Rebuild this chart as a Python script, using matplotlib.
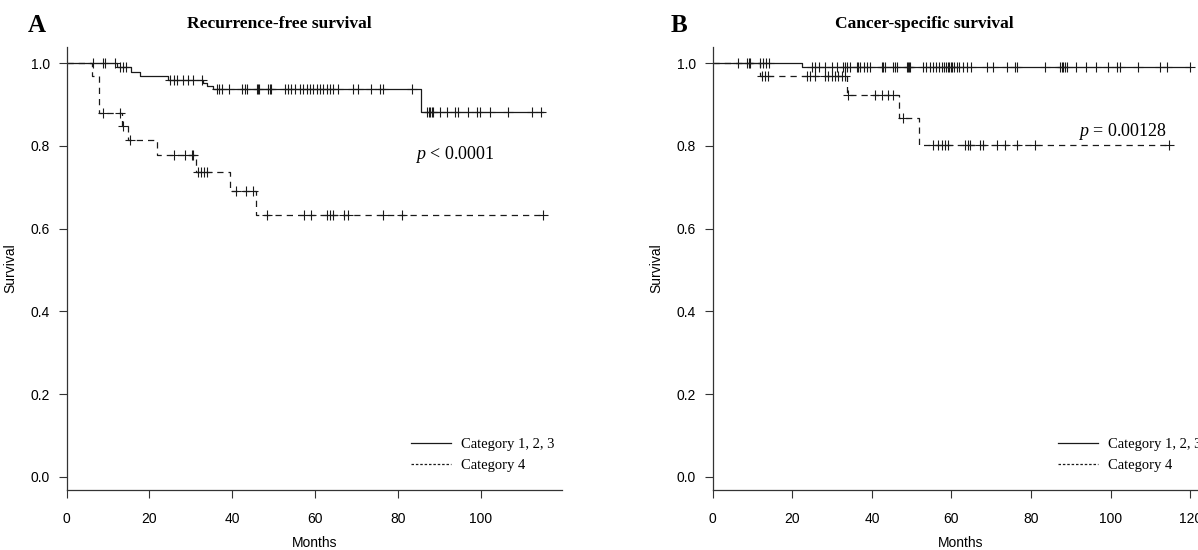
import numpy as np
import matplotlib
matplotlib.use("Agg")
import matplotlib.pyplot as plt
from matplotlib.lines import Line2D

plt.rcParams['mathtext.fontset'] = 'custom'
plt.rcParams['mathtext.rm'] = 'Liberation Serif'
plt.rcParams['mathtext.it'] = 'Liberation Serif:italic'

# ---------------- Data ----------------
# Panel A: Recurrence-free survival
a_c123_times = [0, 12.1, 15.5, 17.7, 24.5, 33.0, 33.9, 35.4, 85.6]
a_c123_surv = [1.0, 0.990, 0.980, 0.970, 0.960, 0.952, 0.944, 0.937, 0.883]
a_c123_end = 115.0
a_c123_cens = [6.4, 8.7, 9.2, 11.6, 12.8, 13.5, 14.3,
               25.0, 25.8, 26.6, 28.2, 29.4, 30.6, 32.6,
               36.2, 36.9, 37.5, 39.2, 42.3, 43.1, 43.5, 45.9, 46.3, 46.5,
               48.7, 49.1, 49.4, 52.7, 53.5, 54.3, 55.1, 56.4, 57.2, 58.0,
               58.8, 59.6, 60.4, 61.2, 62.0, 62.8, 63.6, 64.4, 65.6, 69.2,
               70.4, 73.6, 75.7, 76.5, 83.3,
               87.0, 87.4, 87.8, 88.2, 88.5, 90.2, 91.8, 93.8, 94.6, 97.0,
               99.0, 99.8, 102.2, 106.6, 112.5, 114.5]

a_c4_times = [0, 6.0, 7.9, 13.3, 14.9, 21.7, 31.2, 39.4, 45.8]
a_c4_surv = [1.0, 0.970, 0.879, 0.848, 0.815, 0.778, 0.738, 0.690, 0.634]
a_c4_end = 115.0
a_c4_cens = [8.8, 12.8, 13.7, 15.2, 25.8, 28.6, 30.2, 30.6,
             31.6, 32.4, 33.2, 34.0, 41.0, 43.4, 45.0,
             48.3, 57.3, 59.0, 62.8, 63.6, 64.4, 67.0, 68.0, 76.5, 80.9, 115.0]

# Panel B: Cancer-specific survival
b_c123_times = [0, 22.4]
b_c123_surv = [1.0, 0.990]
b_c123_end = 120.0
b_c123_cens = [6.4, 8.7, 9.0, 9.3, 11.9, 12.7, 13.4, 14.2,
               24.9, 25.7, 26.6, 28.2, 29.9, 31.2, 32.8, 33.3, 33.7, 34.5,
               36.2, 36.6, 37.0, 37.9, 38.7, 39.5, 42.5, 42.9, 43.3, 45.4,
               45.8, 46.2, 48.7, 49.0, 49.3, 49.6, 52.9, 53.7, 54.5, 55.3,
               56.1, 56.9, 57.5, 58.0, 58.5, 59.0, 59.4, 59.8, 60.2, 60.6,
               61.4, 62.0, 63.0, 64.0, 65.0, 68.8, 70.5, 73.9, 76.0, 76.4,
               83.5, 87.3, 87.7, 88.1, 88.5, 88.9, 91.4, 93.9, 96.4, 99.4,
               101.5, 102.3, 106.9, 112.4, 114.1, 120.0]

b_c4_times = [0, 11.9, 33.7, 46.9, 51.9]
b_c4_surv = [1.0, 0.969, 0.923, 0.867, 0.802]
b_c4_end = 115.0
b_c4_cens = [12.3, 13.1, 14.0, 23.6, 24.4, 25.7, 28.2, 29.0, 29.9, 30.7,
             31.5, 32.4, 33.2, 34.1, 40.8, 42.5, 44.1, 45.4, 47.9,
             55.4, 56.7, 57.5, 58.4, 59.2, 63.4, 64.2, 64.6, 67.2, 68.0,
             71.4, 73.5, 76.4, 81.0, 114.7]

labels = ["Category 1, 2, 3", "Category 4"]
titles = ["Recurrence-free survival", "Cancer-specific survival"]
panel_letters = ["A", "B"]
p_texts = ["$p$ < 0.0001", "$p$ = 0.00128"]
xticks_a = [0, 20, 40, 60, 80, 100]
xticks_b = [0, 20, 40, 60, 80, 100, 120]
yticks = [0.0, 0.2, 0.4, 0.6, 0.8, 1.0]

# ---------------- Plot ----------------
W, H = 1198, 550
fig = plt.figure(figsize=(W / 100, H / 100), dpi=100)

LC = '#1a1a1a'
SANS = 'Liberation Sans'
SERIF = 'Liberation Serif'


def km(ax, times, surv, end, cens, dashed):
    t = list(times) + [end]
    s = list(surv) + [surv[-1]]
    ls = (0, (5, 4)) if dashed else '-'
    ax.step(t, s, where='post', color=LC, lw=0.9, ls=ls)
    idx = np.searchsorted(np.asarray(times), np.asarray(cens), side='right') - 1
    cy = np.asarray(surv)[idx]
    ax.plot(cens, cy, ls='none', marker='+', ms=7, mew=0.8, color=LC)


def setup(ax, xmax, xticks):
    ax.set_xlim(0, xmax)
    ax.set_ylim(-0.032, 1.04)
    for s in ['top', 'right']:
        ax.spines[s].set_visible(False)
    for s in ['left', 'bottom']:
        ax.spines[s].set_linewidth(0.9)
        ax.spines[s].set_color('#333333')
    ax.set_xticks(xticks)
    ax.set_yticks(yticks)
    ax.set_yticklabels([f"{v:.1f}" for v in yticks])
    ax.tick_params(axis='both', direction='out', length=6, width=0.8,
                   color='#333333', labelsize=10)
    ax.tick_params(axis='x', pad=10)
    ax.tick_params(axis='y', pad=6)
    for lab in ax.get_xticklabels() + ax.get_yticklabels():
        lab.set_fontfamily(SANS)
    ax.set_xlabel("Months", fontsize=10, fontfamily=SANS)
    ax.set_ylabel("Survival", fontsize=10, fontfamily=SANS)
    ax.xaxis.set_label_coords(0.5, -0.103)
    ax.yaxis.set_label_coords(-0.1, 0.5)
    handles = [Line2D([], [], color=LC, lw=0.9, ls='-'),
               Line2D([], [], color=LC, lw=0.9, ls=(0, (2, 1.5)))]
    ax.legend(handles, labels, loc='upper left', bbox_to_anchor=(0.695, 0.118),
              frameon=False, prop={'family': SERIF, 'size': 10.5},
              handlelength=2.75, handletextpad=0.7, labelspacing=0.55,
              borderpad=0, borderaxespad=0)


bottom = 60 / H
height = 443.3 / H
axA = fig.add_axes([66.7 / W, bottom, 495.1 / W, height])
axB = fig.add_axes([712.7 / W, bottom, 496.7 / W, height])

km(axA, a_c123_times, a_c123_surv, a_c123_end, a_c123_cens, False)
km(axA, a_c4_times, a_c4_surv, a_c4_end, a_c4_cens, True)
setup(axA, 119.6, xticks_a)
axA.text(84.1, 0.768, p_texts[0], fontsize=13, fontfamily=SERIF,
         ha='left', va='baseline')

km(axB, b_c123_times, b_c123_surv, b_c123_end, b_c123_cens, False)
km(axB, b_c4_times, b_c4_surv, b_c4_end, b_c4_cens, True)
setup(axB, 124.8, xticks_b)
axB.text(91.8, 0.824, p_texts[1], fontsize=13, fontfamily=SERIF,
         ha='left', va='baseline')

# Panel letters and titles
fig.text(28 / W, 1 - 31.7 / H, panel_letters[0], fontsize=18, fontweight='bold',
         fontfamily=SERIF, ha='left', va='baseline')
fig.text(187 / W, 1 - 28.3 / H, titles[0], fontsize=12.5, fontweight='bold',
         fontfamily=SERIF, ha='left', va='baseline')
fig.text(671 / W, 1 - 31.7 / H, panel_letters[1], fontsize=18, fontweight='bold',
         fontfamily=SERIF, ha='left', va='baseline')
fig.text(835 / W, 1 - 28.3 / H, titles[1], fontsize=12.5, fontweight='bold',
         fontfamily=SERIF, ha='left', va='baseline')

fig.savefig("out.png", dpi=100)
